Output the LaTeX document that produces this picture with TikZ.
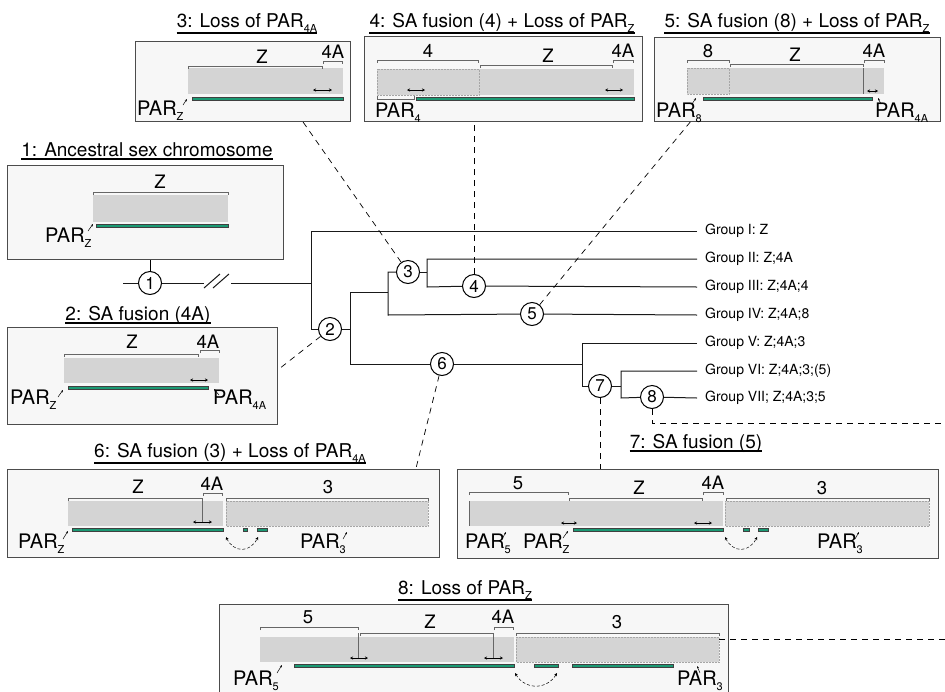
\documentclass[tikz,border=0pt]{standalone}
\usepackage{fontspec}
\setmainfont{TeX Gyre Heros}
\usetikzlibrary{arrows.meta,positioning}
\definecolor{pargreen}{HTML}{1B9A74}
\definecolor{chromgray}{HTML}{D4D4D4}
\definecolor{panelfill}{HTML}{F7F7F7}
\newcommand{\lowsub}[1]{\raisebox{-5pt}{\fontsize{11}{11}\selectfont #1}}

\begin{document}
\begin{tikzpicture}[
	x = 1pt, y = -1pt, % one unit per pixel, y pointing down
	> = {Stealth[length=3pt, width=3pt]},
	panel/.style={draw=black!70, fill=panelfill, line width=0.8pt, inner sep=0pt, anchor=north west},
	chrom/.style={fill=chromgray},
	fused/.style={fill=chromgray, draw=black!35, densely dotted, line width=0.5pt},
	par/.style={fill=pargreen, draw=black!75, line width=0.3pt},
	brack/.style={draw=black!60, line width=0.6pt},
	slide/.style={<->, line width=0.6pt},
	tick/.style={-{Stealth[length=2.5pt, width=2pt]}, line width=0.5pt},
	swapline/.style={<->, densely dashed, line width=0.5pt},
	tree/.style={line width=1pt, draw=black!90},
	link/.style={dash pattern=on 6pt off 5pt, line width=0.7pt},
	uline/.style={line width=1.5pt},
	event/.style={circle, draw, fill=white, line width=1pt, minimum size=23pt, inner sep=0pt, font=\fontsize{17}{17}\selectfont},
	grp/.style={anchor=west, inner sep=0pt, font=\fontsize{14}{16}\selectfont},
	ttl/.style={anchor=base, inner sep=0pt, font=\fontsize{19}{21}\selectfont},
	seg/.style={anchor=base, inner sep=0pt, font=\fontsize{18.5}{20}\selectfont},
	parl/.style={anchor=base west, inner sep=0pt, font=\fontsize{20}{22}\selectfont},
	]

	\useasboundingbox (0,0) rectangle (945,691);
	\clip (0,0) rectangle (945,691);

	% Panels
	\node[panel, minimum width=276pt, minimum height=94pt] (p1) at (7,165) {};
	\node[panel, minimum width=270pt, minimum height=97pt] (p2) at (7,327) {};
	\node[panel, minimum width=215pt, minimum height=80pt] (p3) at (135,41) {};
	\node[panel, minimum width=278pt, minimum height=85pt] (p4) at (364,36) {};
	\node[panel, minimum width=286pt, minimum height=84pt] (p5) at (654,37) {};
	\node[panel, minimum width=432pt, minimum height=88pt] (p6) at (7,469) {};
	\node[panel, minimum width=481pt, minimum height=89pt] (p7) at (457,469) {};
	\node[panel, minimum width=509pt, minimum height=100pt] (p8) at (219,604) {};

	% Titles
	\node[ttl] (t1) at (147,156) {1: Ancestral sex chromosome};
	\node[ttl] (t2) at (138,320) {2: SA fusion (4A)};
	\node[ttl] (t3) at (247,27) {3: Loss of PAR\lowsub{4A}};
	\node[ttl] (t4) at (502,27) {4: SA fusion (4) + Loss of PAR\lowsub{Z}};
	\node[ttl] (t5) at (797,27) {5: SA fusion (8) + Loss of PAR\lowsub{Z}};
	\node[ttl] (t6) at (230,457) {6: SA fusion (3) + Loss of PAR\lowsub{4A}};
	\node[ttl] (t7) at (696,448) {7: SA fusion (5)};
	\node[ttl] (t8) at (465,594) {8: Loss of PAR\lowsub{Z}};
	\foreach \t in {t1,t2,t7}
		\draw[uline] ([yshift=-3pt]\t.base west) -- ([yshift=-3pt]\t.base east);
	\foreach \t in {t3,t4,t5,t6,t8}
		\draw[uline] ([yshift=-6pt]\t.base west) -- ([yshift=-6pt]\t.base east);

	% Chromosomes
	\foreach \xa/\ya/\xb/\yb in {93/195/228/222, 64/358/219/383, 188/68/343/94, 479/69/634/95, 729/68/884/94, 68/501/223/526, 469/501/723/526, 260/637/514/662}
		\fill[chrom] (\xa,\ya) rectangle (\xb,\yb);
	\foreach \xa/\ya/\xb/\yb in {377/69/479/95, 687/68/729/94, 226/501/428/526, 725/501/929/526, 516/637/719/662}
		\draw[fused] (\xa,\ya) rectangle (\xb,\yb);
	\foreach \xa/\ya/\yb in {863/68/94, 469/501/526, 202/498/523, 358/633/658, 493/633/658}
		\draw[black!60, line width=0.6pt] (\xa,\ya) -- (\xa,\yb);

	% PAR regions
	\foreach \xa/\ya/\xb/\yb in {96/224/228/227, 68/386/208/389, 192/97/343/100, 416/97/634/100, 703/97/872/100, 72/528/223/531, 243/528/247/531, 257/528/267/531, 573/528/723/531, 743/528/749/531, 758/528/768/531, 294/664/514/667, 534/664/558/667, 572/664/673/667}
		\draw[par] (\xa,\ya) rectangle (\xb,\yb);

	% Brackets and segment names
	\foreach \xa/\xb/\y in {93/228/192, 64/198/354, 200/219/350, 188/322/66, 323/342/61, 377/478/60, 480/612/65, 613/633/60, 687/729/60, 730/863/64, 864/884/60, 68/202/498, 203/222/493, 226/428/498, 469/568/492, 569/702/498, 703/723/492, 726/929/498, 260/358/627, 360/493/633, 494/513/627, 516/719/633}
		\draw[brack] (\xa,\y+3) -- (\xa,\y) -- (\xb,\y) -- (\xb,\y+3);
	\draw[brack] (377,96) |- (414,99) -- ++(0,-3);
	\foreach \x/\y/\t [count=\i] in {160/188/Z, 132/348/Z, 208/348/4A, 262/63/Z, 333/58/4A, 428/57/4, 548/62/Z, 623/57/4A, 708/57/8, 795/61/Z, 874/57/4A, 138/493/Z, 212/490/4A, 328/493/3, 518/489/5, 639/494/Z, 713/489/4A, 822/494/3, 308/623/5, 430/628/Z, 503/623/4A, 617/628/3}
		\node[seg] (s\i) at (\x,\y) {\t};

	% Boundary shifts
	\foreach \xa/\xb/\y in {190/208/380, 313/332/90, 407/425/90, 605/623/90, 867/878/91, 193/212/522, 561/577/523, 694/712/523, 350/368/658, 484/503/658}
		\draw[slide] (\xa,\y) -- (\xb,\y);
	\draw[swapline] (226,537) .. controls (234,553) and (250,553) .. (258,537);
	\draw[swapline] (725,537) .. controls (733,553) and (749,553) .. (757,537);
	\draw[swapline] (515,673) .. controls (525,690) and (547,690) .. (557,673);

	% PAR labels
	\foreach \x/\y/\s [count=\i] in {45/242/Z, 10/404/Z, 213/404/4A, 137/115/Z, 375/117/4, 656/117/8, 875/117/4A, 18/548/Z, 300/548/3, 465/548/5, 523/548/Z, 817/548/3, 233/685/5, 677/685/3}
		\node[parl] (r\i) at (\x,\y) {PAR\lowsub{\s}};
	\foreach \xa/\ya/\xb/\yb in {88/231/93/224, 58/397/63/390, 219/395/214/389, 183/105/187/99, 692/104/696/98, 881/104/878/98, 63/539/68/531, 343/539/347/532, 502/539/506/532, 563/538/568/531, 855/539/859/532, 277/673/282/665, 700/673/697/666}
		\draw[tick] (\xa,\ya) -- (\xb,\yb);

	% Tree
	\node[event] (n1) at (150,283) {1};
	\node[event] (n2) at (330,329) {2};
	\node[event] (n3) at (408,272) {3};
	\node[event] (n4) at (474,286) {4};
	\node[event] (n5) at (532,314) {5};
	\node[event] (n6) at (442,364) {6};
	\node[event] (n7) at (600,386) {7};
	\node[event] (n8) at (652,397) {8};

	\node[grp] (g1) at (705,231) {Group I: Z};
	\node[grp] (g2) at (705,259) {Group II: Z;4A};
	\node[grp] (g3) at (705,287) {Group III: Z;4A;4};
	\node[grp] (g4) at (705,315) {Group IV: Z;4A;8};
	\node[grp] (g5) at (705,343) {Group V: Z;4A;3};
	\node[grp] (g6) at (705,371) {Group VI: Z;4A;3;(5)};
	\node[grp] (g7) at (705,398) {Group VII; Z;4A;3;5};

	\draw[tree] (123,283) -- (n1) -- (204,283);
	\draw[tree] (204,288) -- (220,274);
	\draw[tree] (213,288) -- (229,274);
	\draw[tree] (231,283) -- (311,283);
	\draw[tree] ([xshift=-8pt]g1.west) -| (311,329) -- (n2) -- (350,329);
	\draw[tree] (388,292) -| (350,364) -- (n6) -- (582,364);
	\draw[tree] (n3) -| (388,315) -- (n5) -- ([xshift=-8pt]g4.west);
	\draw[tree] (n3) -- (427,272);
	\draw[tree] ([xshift=-8pt]g2.west) -| (427,287) -- (n4) -- ([xshift=-8pt]g3.west);
	\draw[tree] ([xshift=-8pt]g5.west) -| (582,386) -- (n7) -- (621,386);
	\draw[tree] ([xshift=-8pt]g6.west) -| (621,398) -- (n8) -- ([xshift=-8pt]g7.west);

	% Links from events to panels
	\coordinate (e8) at (945,423);
	\coordinate (c8) at (719,639);
	\coordinate (f8) at (945,639);
	\draw[line width=0.8pt] (n1) -- (n1 |- p1.south);
	\draw[link] (n2) -- ([yshift=6pt]p2.east);
	\draw[link] (n3) -- ([xshift=60pt]p3.south);
	\draw[link] (n4) -- (n4 |- p4.south);
	\draw[link] (n5) -- ([xshift=-107pt]p5.south);
	\draw[link] (n6) -- ([xshift=-24pt]p6.north east);
	\draw[link] (n7) -- (n7 |- p7.north);
	\draw[link] (n8) |- (e8);
	\draw[link] (c8) -- (f8);

\end{tikzpicture}
\end{document}
